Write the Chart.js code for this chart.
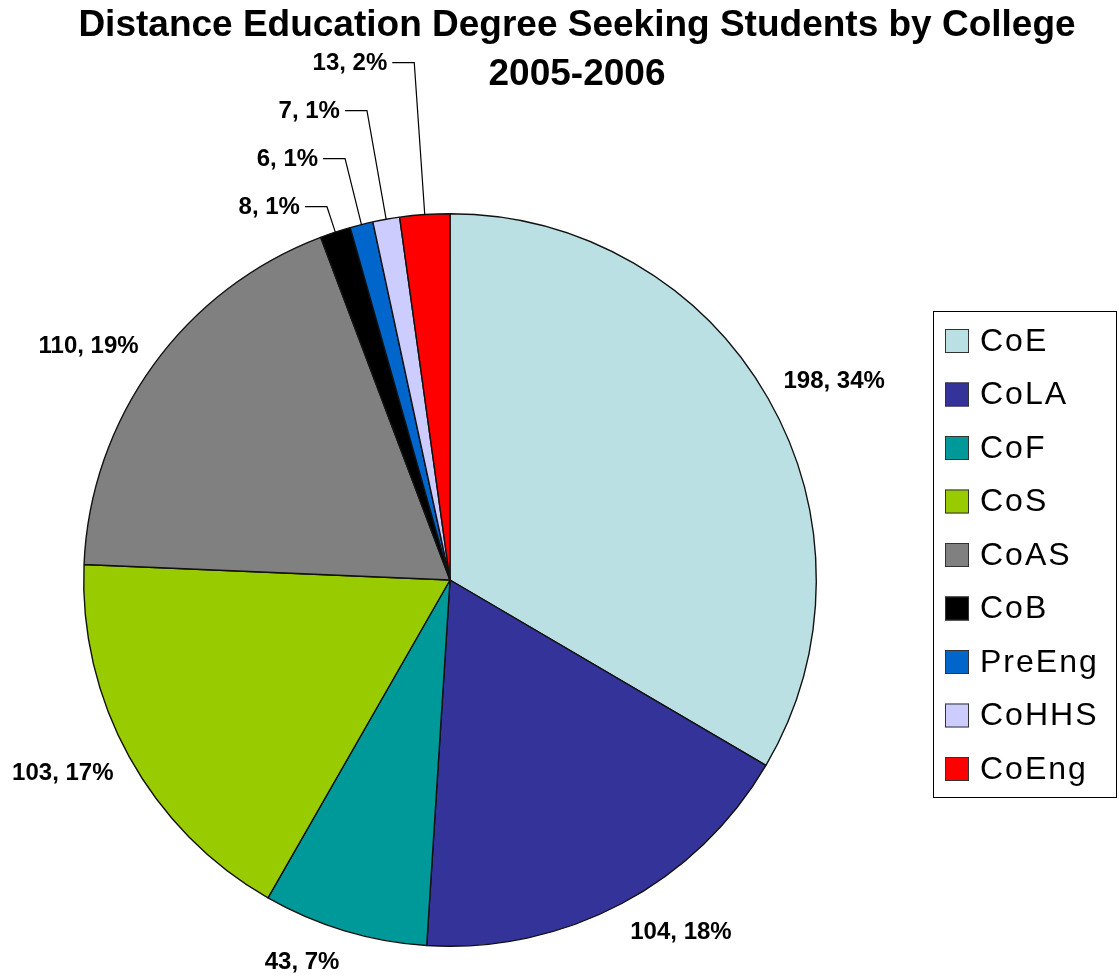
<!DOCTYPE html>
<html>
<head>
<meta charset="utf-8">
<title>Distance Education Degree Seeking Students by College</title>
<script src="https://cdn.jsdelivr.net/npm/chart.js@4.4.1/dist/chart.umd.min.js"></script>
<style>
  html, body { margin: 0; padding: 0; background: #fff; }
  canvas { display: block; }
</style>
</head>
<body>
<canvas id="chart" width="1119" height="978"></canvas>
<script>
const colleges = ['CoE', 'CoLA', 'CoF', 'CoS', 'CoAS', 'CoB', 'PreEng', 'CoHHS', 'CoEng']
const students = [198, 104, 43, 103, 110, 8, 6, 7, 13]
const percents = [34, 18, 7, 17, 19, 1, 1, 1, 2]
const sliceColors = ['#BBE0E3', '#333399', '#009999', '#99CC00', '#808080', '#000000', '#0066CC', '#CCCCFF', '#FF0000']
const titleLines = ['Distance Education Degree Seeking Students by College', '2005-2006']

const FONT = '"Liberation Sans", Arial, sans-serif'

// labels, leader lines, title and framed legend drawn like the excel original
const decorations = {
  id: 'decorations',
  afterDraw(chart) {
    const ctx = chart.ctx
    const arcs = chart.getDatasetMeta(0).data
    ctx.save()

    // title
    ctx.fillStyle = '#000'
    ctx.textAlign = 'center'
    ctx.textBaseline = 'alphabetic'
    ctx.font = 'bold 37px ' + FONT
    ctx.fillText(titleLines[0], 577, 36)
    ctx.fillText(titleLines[1], 577, 85)

    // data labels
    ctx.font = 'bold 24px ' + FONT
    ctx.textBaseline = 'middle'
    let small = 0
    arcs.forEach((arc, i) => {
      const { x, y, startAngle, endAngle, outerRadius } = arc.getProps(['x', 'y', 'startAngle', 'endAngle', 'outerRadius'], true)
      const mid = (startAngle + endAngle) / 2
      const dx = Math.cos(mid)
      const dy = Math.sin(mid)
      const text = students[i] + ', ' + percents[i] + '%'
      const halfW = ctx.measureText(text).width / 2

      if (students[i] >= 20) {
        const ax = x + (outerRadius + 18) * dx
        const ay = y + (outerRadius + 18) * dy
        const lx = ax + Math.sign(dx) * halfW
        const ly = ay + dy * 15
        ctx.textAlign = 'center'
        ctx.fillText(text, lx, ly)
      } else {
        // stacked labels above the pie with a leader line to the slice
        const elbowY = y - outerRadius - 7 - small * 48
        const d = (y - elbowY) / -dy
        const elbowX = x + d * dx
        ctx.strokeStyle = '#000'
        ctx.lineWidth = 1.2
        ctx.beginPath()
        ctx.moveTo(x + outerRadius * dx, y + outerRadius * dy)
        ctx.lineTo(elbowX, elbowY)
        ctx.lineTo(elbowX - 22, elbowY)
        ctx.stroke()
        ctx.textAlign = 'right'
        ctx.fillText(text, elbowX - 27, elbowY + 1)
        small++
      }
    })

    // legend
    ctx.strokeStyle = '#000'
    ctx.lineWidth = 1
    ctx.strokeRect(933.5, 311.5, 183, 486)
    ctx.font = '32px ' + FONT
    ctx.textAlign = 'left'
    if ('letterSpacing' in ctx) ctx.letterSpacing = '2px'
    colleges.forEach((name, i) => {
      const cy = 341 + i * 53.5
      ctx.fillStyle = sliceColors[i]
      ctx.fillRect(945, cy - 12, 24, 24)
      ctx.strokeStyle = '#333'
      ctx.strokeRect(945.5, cy - 11.5, 23, 23)
      ctx.fillStyle = '#000'
      ctx.fillText(name, 980, cy + 1)
    })
    ctx.restore()
  }
}

new Chart(document.getElementById('chart'), {
  type: 'pie',
  data: {
    labels: colleges,
    datasets: [{
      data: students,
      backgroundColor: sliceColors,
      borderColor: '#111',
      borderWidth: 1.4
    }]
  },
  options: {
    responsive: false,
    animation: false,
    layout: {
      padding: { top: 213, left: 83, right: 302, bottom: 31 }
    },
    plugins: {
      legend: { display: false },
      title: { display: false },
      tooltip: { enabled: false }
    }
  },
  plugins: [decorations]
})
</script>
</body>
</html>
